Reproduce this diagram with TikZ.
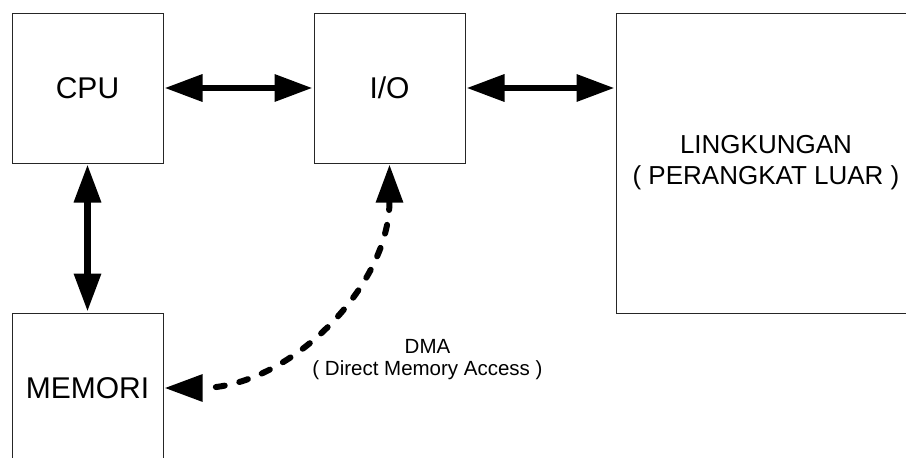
\documentclass[tikz,border=0pt]{standalone}
\usepackage{fontspec}
\setmainfont{Liberation Sans}
\usetikzlibrary{arrows.meta}

\begin{document}
\begin{tikzpicture}[x=1pt,y=-1pt,
  unit/.style={draw=black!85, line width=0.9pt, fill=white, inner sep=0pt, outer sep=0pt,
    font=\fontsize{30}{36}\selectfont},
  bigarrow/.style={line width=6.5pt, {Triangle[length=38pt,width=26pt]}-{Triangle[length=38pt,width=26pt]},
    shorten <=1.5pt, shorten >=1.5pt},
  dmaarrow/.style={line width=6pt, line cap=round, dash pattern=on 9pt off 15pt,
    {Triangle[length=38pt,width=26pt]}-{Triangle[length=38pt,width=26pt]},
    shorten <=1.5pt, shorten >=1.5pt},
  dmatext/.style={inner sep=0pt, anchor=base, font=\fontsize{20.5}{24}\selectfont}]

  % page frame
  \fill[white] (0,0) rectangle (906,458);
  \useasboundingbox (0,0) rectangle (906,458);

  % blocks
  \node[unit, minimum width=151pt, minimum height=150pt] (cpu) at (87.5,88) {CPU};
  \node[unit, minimum width=151pt, minimum height=150pt] (io)  at (389.5,88) {I/O};
  \node[unit, minimum width=151pt, minimum height=150pt] (mem) at (87.5,388) {MEMORI};
  \node[unit, minimum width=300pt, minimum height=300pt, align=center,
        font=\fontsize{26}{31}\selectfont] (env) at (766,163)
        {LINGKUNGAN\\( PERANGKAT LUAR )};

  % buses
  \draw[bigarrow] (cpu.east) -- (io.west);
  \draw[bigarrow] (io.east) -- (io.east -| env.west);
  \draw[bigarrow] (cpu.south) -- (mem.north);

  % direct memory access path
  \draw[dmaarrow] (io.south) to[out=-90, in=0] (mem.east);
  \node[dmatext] (dmaname) at (427.5,353) {DMA};
  \node[dmatext] (dmalong) at (427.5,375) {( Direct Memory Access )};
\end{tikzpicture}
\end{document}
